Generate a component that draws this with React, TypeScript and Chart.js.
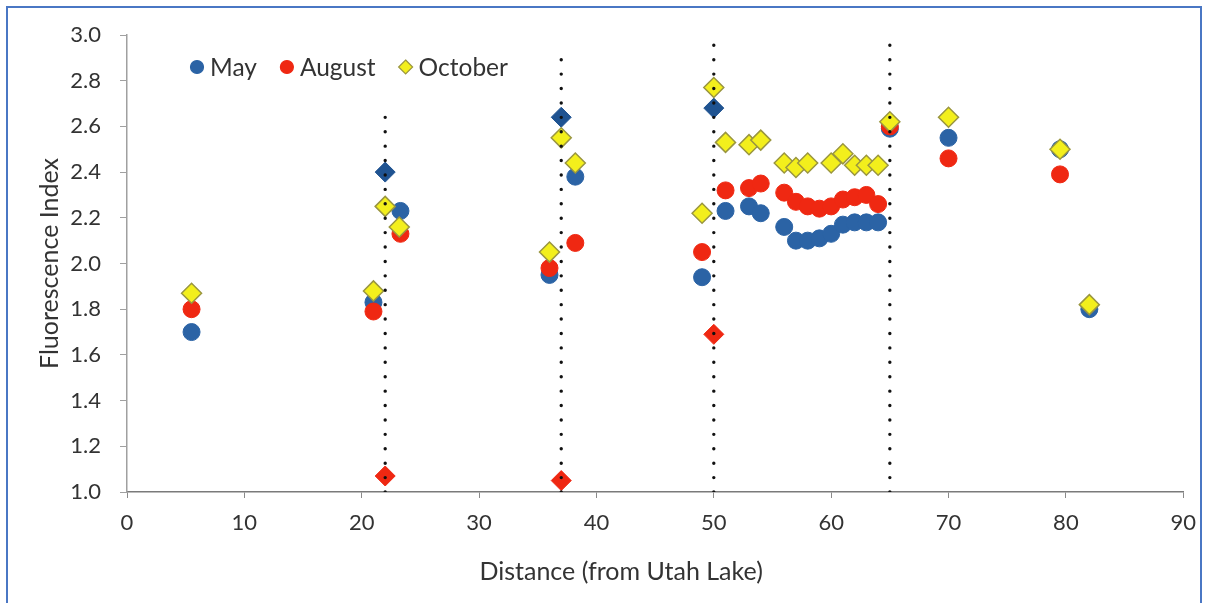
import { useEffect, useRef } from "react";
import { Chart, registerables } from "chart.js";

Chart.register(...registerables);

// Fluorescence index along the river, by sampling month
const mayDistance = [5.5, 21, 23.3, 36, 38.2, 49, 51, 53, 54, 56, 57, 58, 59, 60, 61, 62, 63, 64, 65, 70, 79.5, 82];
const mayIndex = [1.7, 1.83, 2.23, 1.95, 2.38, 1.94, 2.23, 2.25, 2.22, 2.16, 2.1, 2.1, 2.11, 2.13, 2.17, 2.18, 2.18, 2.18, 2.59, 2.55, 2.5, 1.8];

const augustDistance = [5.5, 21, 23.3, 36, 38.2, 49, 51, 53, 54, 56, 57, 58, 59, 60, 61, 62, 63, 64, 65, 70, 79.5];
const augustIndex = [1.8, 1.79, 2.13, 1.98, 2.09, 2.05, 2.32, 2.33, 2.35, 2.31, 2.27, 2.25, 2.24, 2.25, 2.28, 2.29, 2.3, 2.26, 2.6, 2.46, 2.39];

const octoberDistance = [5.5, 21, 22, 23.2, 36, 37, 38.2, 49, 50, 51, 53, 54, 56, 57, 58, 60, 61, 62, 63, 64, 65, 70, 79.5, 82];
const octoberIndex = [1.87, 1.88, 2.25, 2.16, 2.05, 2.55, 2.44, 2.22, 2.77, 2.53, 2.52, 2.54, 2.44, 2.42, 2.44, 2.44, 2.48, 2.43, 2.43, 2.43, 2.62, 2.64, 2.5, 1.82];

// Samples taken right at the confluences (drawn as diamonds)
const mayConfluenceDistance = [22, 37, 50];
const mayConfluenceIndex = [2.4, 2.64, 2.68];
const augustConfluenceDistance = [22, 37, 50];
const augustConfluenceIndex = [1.07, 1.05, 1.69];

// Dotted markers for the confluences
const confluenceDistance = [22, 37, 50, 65];
const confluenceTop = [2.65, 2.93, 2.96, 2.96];

const xTicks = [0, 10, 20, 30, 40, 50, 60, 70, 80, 90];
const yTicks = [1.0, 1.2, 1.4, 1.6, 1.8, 2.0, 2.2, 2.4, 2.6, 2.8, 3.0];

const xTitle = "Distance (from Utah Lake)";
const yTitle = "Fluorescence Index";

const BLUE = "#2b63a5";
const BLUE_DARK = "#1f5391";
const RED = "#ef2812";
const YELLOW = "#f3ef1c";
const YELLOW_EDGE = "#9a9640";
const TEXT = "#333333";
const FONT = "Lato, 'Open Sans', sans-serif";

const toPoints = (xs: number[], ys: number[]) => xs.map((x, i) => ({ x, y: ys[i] }));

const legendItems = [
  { label: "May", fill: BLUE, edge: BLUE, shape: "circle" },
  { label: "August", fill: RED, edge: RED, shape: "circle" },
  { label: "October", fill: YELLOW, edge: YELLOW_EDGE, shape: "diamond" },
];

// Legend drawn inside the plot area, top-left
const insideLegend = {
  id: "insideLegend",
  afterDraw(chart: any) {
    const { ctx, chartArea } = chart;
    ctx.save();
    ctx.font = `24.5px ${FONT}`;
    ctx.textBaseline = "middle";
    const y = chartArea.top + 32;
    let x = chartArea.left + 70;
    for (const item of legendItems) {
      ctx.beginPath();
      if (item.shape === "circle") {
        ctx.arc(x, y, 6.5, 0, Math.PI * 2);
      } else {
        ctx.moveTo(x, y - 7);
        ctx.lineTo(x + 7, y);
        ctx.lineTo(x, y + 7);
        ctx.lineTo(x - 7, y);
        ctx.closePath();
      }
      ctx.fillStyle = item.fill;
      ctx.fill();
      ctx.lineWidth = 1.2;
      ctx.strokeStyle = item.edge;
      ctx.stroke();
      ctx.fillStyle = TEXT;
      ctx.fillText(item.label, x + 13, y + 1);
      x += 13 + ctx.measureText(item.label).width + 30;
    }
    ctx.restore();
  },
};

// Axis titles
const axisTitles = {
  id: "axisTitles",
  afterDraw(chart: any) {
    const { ctx, chartArea } = chart;
    ctx.save();
    ctx.font = `25px ${FONT}`;
    ctx.fillStyle = TEXT;
    ctx.textAlign = "center";
    ctx.textBaseline = "middle";
    ctx.fillText(xTitle, (chartArea.left + chartArea.right) / 2 - 34, chartArea.bottom + 80);
    ctx.translate(50, (chartArea.top + chartArea.bottom) / 2);
    ctx.rotate(-Math.PI / 2);
    ctx.fillText(yTitle, 0, 0);
    ctx.restore();
  },
};

export default function App() {
  const canvasRef = useRef<HTMLCanvasElement | null>(null);

  useEffect(() => {
    const canvas = canvasRef.current;
    if (!canvas) return;

    const dividers = confluenceDistance.map((x, i) => ({
      type: "line" as const,
      label: `confluence-${x}`,
      data: [
        { x, y: 1.0 },
        { x, y: confluenceTop[i] },
      ],
      borderColor: "#111111",
      borderWidth: 3.4,
      borderDash: [0.01, 14.4],
      borderCapStyle: "round" as const,
      pointRadius: 0,
      showLine: true,
      order: 0,
    }));

    const chart = new Chart(canvas, {
      type: "scatter",
      data: {
        datasets: [
          {
            label: "May",
            data: toPoints(mayDistance, mayIndex),
            backgroundColor: BLUE,
            borderColor: BLUE,
            borderWidth: 1,
            pointRadius: 8.5,
            pointStyle: "circle",
            order: 5,
          },
          {
            label: "August",
            data: toPoints(augustDistance, augustIndex),
            backgroundColor: RED,
            borderColor: RED,
            borderWidth: 1,
            pointRadius: 8.5,
            pointStyle: "circle",
            order: 4,
          },
          {
            label: "October",
            data: toPoints(octoberDistance, octoberIndex),
            backgroundColor: YELLOW,
            borderColor: YELLOW_EDGE,
            borderWidth: 1.5,
            pointRadius: 10,
            pointStyle: "rectRot",
            order: 1,
          },
          {
            label: "May confluence",
            data: toPoints(mayConfluenceDistance, mayConfluenceIndex),
            backgroundColor: BLUE_DARK,
            borderColor: BLUE_DARK,
            borderWidth: 1,
            pointRadius: 10,
            pointStyle: "rectRot",
            order: 3,
          },
          {
            label: "August confluence",
            data: toPoints(augustConfluenceDistance, augustConfluenceIndex),
            backgroundColor: RED,
            borderColor: RED,
            borderWidth: 1,
            pointRadius: 10,
            pointStyle: "rectRot",
            order: 2,
          },
          ...dividers,
        ] as any,
      },
      options: {
        animation: false,
        responsive: false,
        layout: { padding: { left: 0, top: 35, right: 22, bottom: 0 } },
        plugins: {
          legend: { display: false },
          tooltip: { enabled: false },
        },
        scales: {
          x: {
            type: "linear",
            min: 0,
            max: 90,
            afterBuildTicks: (scale: any) => {
              scale.ticks = xTicks.map((value) => ({ value }));
            },
            afterFit: (scale: any) => {
              scale.height = 111;
            },
            grid: {
              drawOnChartArea: false,
              drawTicks: true,
              tickLength: 6,
              color: "#8a8a8a",
            },
            border: { display: true, color: "#7a7a7a", width: 1.5 },
            ticks: {
              padding: 12,
              color: TEXT,
              font: { family: FONT, size: 22 },
              maxRotation: 0,
            },
          },
          y: {
            type: "linear",
            min: 1.0,
            max: 3.0,
            afterBuildTicks: (scale: any) => {
              scale.ticks = yTicks.map((value) => ({ value }));
            },
            afterFit: (scale: any) => {
              scale.width = 127;
            },
            grid: {
              drawOnChartArea: false,
              drawTicks: true,
              tickLength: 7,
              color: "#a0a0a0",
            },
            border: { display: true, color: "#a0a0a0", width: 1.5 },
            ticks: {
              padding: 19,
              color: TEXT,
              font: { family: FONT, size: 22 },
              callback: (v: any) => Number(v).toFixed(1),
            },
          },
        },
      },
      plugins: [insideLegend, axisTitles],
    });

    return () => chart.destroy();
  }, []);

  return (
    <>
      <div
        style={{
          position: "fixed",
          left: 6,
          top: 6,
          width: 1196,
          height: 620,
          border: "2px solid #4a77c4",
          boxSizing: "border-box",
        }}
      />
      <canvas
        ref={canvasRef}
        width={1208}
        height={603}
        style={{ position: "fixed", left: 0, top: 0 }}
      />
    </>
  );
}
